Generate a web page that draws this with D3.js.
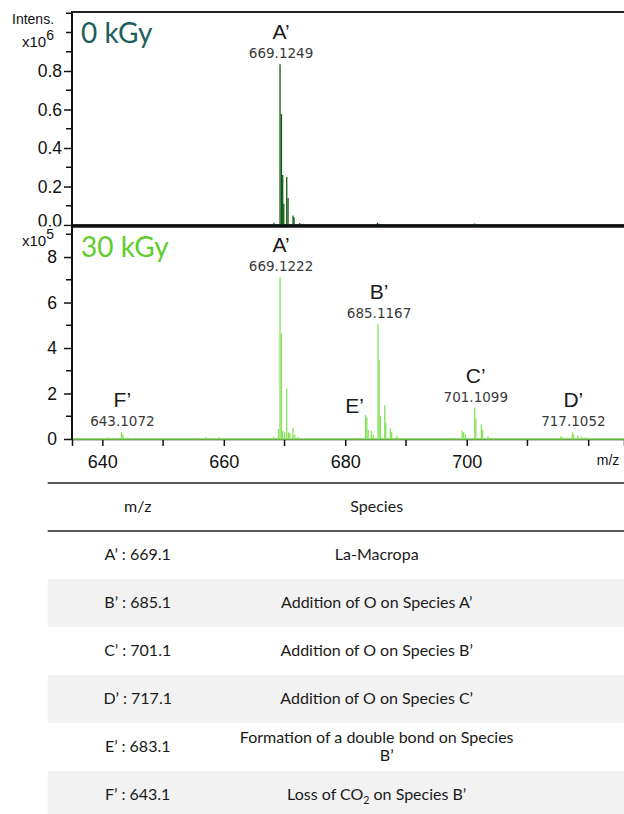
<!DOCTYPE html>
<html>
<head>
<meta charset="utf-8">
<script src="https://cdn.jsdelivr.net/npm/d3@7"></script>
<style>
  body { margin: 0; background: #fff; }
  svg { display: block; }
</style>
</head>
<body>
<div id="chart"></div>
<script>
// peaks: [m/z, intensity]
// 0 kGy, intensity x10^6
const peaks0kGy = [
  [668.27, 0.012], [669.26, 0.835], [669.49, 0.576], [669.70, 0.26], [669.87, 0.11],
  [670.36, 0.25], [670.58, 0.14], [671.40, 0.05], [671.56, 0.04], [672.5, 0.01],
  [685.3, 0.012], [685.6, 0.006], [701.3, 0.008]
];
// 30 kGy, intensity x10^5
const peaks30kGy = [
  [641.0, 0.07], [641.3, 0.05], [643.13, 0.30], [643.37, 0.2], [644.2, 0.08],
  [657.1, 0.1], [659.2, 0.08],
  [668.2, 0.1], [669.0, 0.44], [669.26, 7.1], [669.49, 4.65], [669.70, 0.35], [670.03, 0.3],
  [670.36, 2.2], [670.64, 0.3], [670.86, 0.25], [671.40, 0.5], [671.68, 0.2], [672.2, 0.1],
  [676.3, 0.05], [677.6, 0.05],
  [683.33, 1.05], [683.55, 0.95], [683.77, 0.4], [684.3, 0.35], [684.6, 0.2],
  [685.40, 5.05], [685.57, 3.47], [685.8, 1.0], [686.5, 1.48], [686.67, 0.7],
  [687.43, 0.47], [687.65, 0.3], [688.5, 0.15],
  [699.25, 0.37], [699.5, 0.3], [699.8, 0.2], [701.33, 1.38], [701.5, 0.9],
  [702.43, 0.65], [702.6, 0.4], [703.5, 0.12],
  [715.5, 0.12], [715.7, 0.1], [717.4, 0.3], [717.6, 0.2], [718.3, 0.15], [718.9, 0.1], [719.6, 0.08]
];

// peak annotations
const tags0kGy = ["A’"];
const tagMz0kGy = [669.26];
const tagText0kGy = ["669.1249"];

const tags30kGy = ["A’", "B’", "C’", "D’", "E’", "F’"];
const tagMz30kGy = [669.26, 685.40, 701.33, 717.4, 683.33, 643.13];
const tagText30kGy = ["669.1222", "685.1167", "701.1099", "717.1052", "", "643.1072"];

// axis ticks
const mzTicks = [640, 660, 680, 700, 720];
const mzMinorTicks = [650, 670, 690, 710];
const yTicks0kGy = [0.0, 0.2, 0.4, 0.6, 0.8];
const yMinor0kGy = [0.1, 0.3, 0.5, 0.7, 0.9, 1.0, 1.1];
const yTicks30kGy = [0, 2, 4, 6, 8];
const yMinor30kGy = [1, 3, 5, 7, 9];

// table
const tableHead = ["m/z", "Species"];
const tableMz = ["A’ : 669.1", "B’ : 685.1", "C’ : 701.1", "D’ : 717.1", "E’ : 683.1", "F’ : 643.1"];
const tableSpecies = [
  "La-Macropa",
  "Addition of O on Species A’",
  "Addition of O on Species B’",
  "Addition of O on Species C’",
  "Formation of a double bond on Species|B’",
  "Loss of CO2 on Species B’"
];

function drawFigure() {
  const W = 624, H = 814;
  const axisFont = "'Liberation Sans', Arial, sans-serif";
  const labelFont = "'DejaVu Sans', Verdana, sans-serif";
  const softFont = "Lato, 'Open Sans', sans-serif";

  var svg = d3.select("#chart").append("svg").attr("width", W).attr("height", H);

  // shared m/z scale
  var x = d3.scaleLinear().domain([635, 725.9]).range([72, W]);

  // top panel: 0 kGy
  var y0 = d3.scaleLinear().domain([0, 1.1065]).range([225, 12]);
  // bottom panel: 30 kGy
  var y1 = d3.scaleLinear().domain([0, 9.32]).range([439, 227]);

  function drawSticks(g, peaks, y, color) {
    // baseline
    g.append("line")
      .attr("x1", x.range()[0]).attr("x2", x.range()[1])
      .attr("y1", y(0)).attr("y2", y(0))
      .attr("stroke", color).attr("stroke-width", 1.5);
    g.selectAll("line.peak").data(peaks).enter().append("line")
      .attr("class", "peak")
      .attr("x1", d => x(d[0])).attr("x2", d => x(d[0]))
      .attr("y1", y(0)).attr("y2", d => y(d[1]))
      .attr("stroke", color).attr("stroke-width", 1.3);
  }

  function drawYAxis(g, y, major, minor, fmt, pad) {
    var ax = d3.axisLeft(y).tickValues(major).tickFormat(fmt).tickSize(8).tickPadding(pad);
    var ga = g.append("g").attr("transform", "translate(72,0)").call(ax);
    ga.select(".domain").remove();
    ga.selectAll("text").attr("font-family", axisFont).attr("font-size", 17.5).attr("fill", "#111");
    ga.selectAll("line").attr("stroke", "#111").attr("stroke-width", 1.5);
    g.selectAll("line.minor").data(minor).enter().append("line")
      .attr("class", "minor")
      .attr("x1", 66).attr("x2", 72)
      .attr("y1", d => y(d)).attr("y2", d => y(d))
      .attr("stroke", "#111").attr("stroke-width", 1.5);
    return ga;
  }

  function drawTags(g, tags, mzs, texts, peaks, y) {
    tags.forEach(function (tag, i) {
      var mz = mzs[i];
      // the highest stick near the tagged m/z
      var hi = d3.max(peaks.filter(p => Math.abs(p[0] - mz) < 0.3), p => p[1]);
      var px = x(mz), py = y(hi);
      if (texts[i] === "") {
        // unlabelled peak: tag sits to the left
        g.append("text").attr("x", px - 11).attr("y", py - 2)
          .attr("text-anchor", "middle").attr("font-family", axisFont)
          .attr("font-size", 21).attr("fill", "#1a1a1a").text(tag);
        return;
      }
      g.append("text").attr("x", px + 1).attr("y", py - 6)
        .attr("text-anchor", "middle").attr("font-family", labelFont)
        .attr("font-size", 13.5).attr("fill", "#3a3a3a").text(texts[i]);
      g.append("text").attr("x", px + 1).attr("y", py - 25)
        .attr("text-anchor", "middle").attr("font-family", axisFont)
        .attr("font-size", 21).attr("fill", "#1a1a1a").text(tag);
    });
  }

  function drawExponent(g, yBase, exp) {
    var t = g.append("text").attr("x", 22).attr("y", yBase)
      .attr("font-family", axisFont).attr("font-size", 15).attr("fill", "#111");
    t.append("tspan").text("x10");
    t.append("tspan").attr("dy", -7).attr("font-size", 14).text(exp);
  }

  // ---- top panel ----
  var topPanel = svg.append("g");
  drawSticks(topPanel, peaks0kGy, y0, "#0f5a12");
  var topAxis = drawYAxis(topPanel, y0, yTicks0kGy, yMinor0kGy, d3.format(".1f"), 2);
  // the 0.0 label sits a little high and is half hidden by the divider
  topAxis.selectAll(".tick").filter(d => d === 0).select("text").attr("y", -4);
  drawTags(topPanel, tags0kGy, tagMz0kGy, tagText0kGy, peaks0kGy, y0);

  topPanel.append("text").attr("x", 12).attr("y", 24)
    .attr("font-family", axisFont).attr("font-size", 14).attr("fill", "#111").text("Intens.");
  drawExponent(topPanel, 47, "6");

  topPanel.append("text").attr("x", 81).attr("y", 43)
    .attr("font-family", softFont).attr("font-size", 28).attr("fill", "#1c5e5c").text("0 kGy");

  // top frame line
  topPanel.append("line").attr("x1", 72).attr("x2", W).attr("y1", 12).attr("y2", 12)
    .attr("stroke", "#222").attr("stroke-width", 2);

  // ---- bottom panel ---- (covers the lower half of the top "0.0" label)
  var bottomPanel = svg.append("g");
  bottomPanel.append("rect").attr("x", 0).attr("y", 226.5).attr("width", W).attr("height", 250).attr("fill", "#fff");

  // x axis
  var xa = bottomPanel.append("g").attr("transform", "translate(0,439)")
    .call(d3.axisBottom(x).tickValues(mzTicks).tickFormat(d => d === 720 ? "" : d).tickSize(7).tickPadding(9));
  xa.select(".domain").attr("stroke", "#111").attr("stroke-width", 1.5);
  xa.selectAll("text").attr("font-family", axisFont).attr("font-size", 18).attr("fill", "#111");
  xa.selectAll("line").attr("stroke", "#111").attr("stroke-width", 1.5);
  bottomPanel.selectAll("line.xminor").data(mzMinorTicks).enter().append("line")
    .attr("class", "xminor")
    .attr("x1", d => x(d)).attr("x2", d => x(d)).attr("y1", 439).attr("y2", 446)
    .attr("stroke", "#111").attr("stroke-width", 1.5);
  bottomPanel.append("text").attr("x", 608).attr("y", 465).attr("text-anchor", "middle")
    .attr("font-family", axisFont).attr("font-size", 14).attr("fill", "#111").text("m/z");

  drawSticks(bottomPanel, peaks30kGy, y1, "#86e25a");
  drawYAxis(bottomPanel, y1, yTicks30kGy, yMinor30kGy, d3.format("d"), 7);
  drawTags(bottomPanel, tags30kGy, tagMz30kGy, tagText30kGy, peaks30kGy, y1);
  drawExponent(bottomPanel, 246, "5");

  bottomPanel.append("text").attr("x", 81).attr("y", 257)
    .attr("font-family", softFont).attr("font-size", 28).attr("fill", "#5fcc2c").text("30 kGy");

  // left axis and panel divider
  svg.append("line").attr("x1", 72).attr("x2", 72).attr("y1", 11).attr("y2", 440)
    .attr("stroke", "#111").attr("stroke-width", 2);
  svg.append("line").attr("x1", 72).attr("x2", W).attr("y1", 226).attr("y2", 226)
    .attr("stroke", "#111").attr("stroke-width", 3.5);

  // ---- table ----
  var tbl = svg.append("g");
  var tx0 = 47.7, rowH = 48, headTop = 483;
  var colX = [137.7, 376.7];

  tableMz.forEach(function (d, i) {
    var rt = headTop + rowH * (i + 1);
    if (i % 2 === 1) {
      tbl.append("rect").attr("x", tx0).attr("y", rt).attr("width", W - tx0).attr("height", rowH).attr("fill", "#f2f2f2");
    }
  });

  tbl.append("line").attr("x1", tx0).attr("x2", W).attr("y1", headTop).attr("y2", headTop)
    .attr("stroke", "#222").attr("stroke-width", 1.5);
  tbl.append("line").attr("x1", tx0).attr("x2", W).attr("y1", headTop + rowH).attr("y2", headTop + rowH)
    .attr("stroke", "#222").attr("stroke-width", 1.5);

  function cell(cx, cy, str) {
    var t = tbl.append("text").attr("x", cx).attr("y", cy).attr("text-anchor", "middle")
      .attr("font-family", softFont).attr("font-size", 16).attr("fill", "#1a1a1a");
    // CO2 gets a subscript 2
    if (str.indexOf("CO2") >= 0) {
      var parts = str.split("CO2");
      t.append("tspan").text(parts[0] + "CO");
      t.append("tspan").attr("font-size", 10.5).attr("dy", 4).text("2");
      t.append("tspan").attr("dy", -4).text(parts[1]);
    } else {
      t.text(str);
    }
  }

  tableHead.forEach((h, j) => cell(colX[j], headTop + rowH / 2 + 5, h));

  tableMz.forEach(function (d, i) {
    var mid = headTop + rowH * (i + 1) + rowH / 2;
    cell(colX[0], mid + 5, d);
    var lines = tableSpecies[i].split("|");
    if (lines.length === 1) {
      cell(colX[1], mid + 5, lines[0]);
    } else {
      cell(colX[1], mid - 4, lines[0]);
      cell(colX[1] + 10, mid + 14, lines[1]);
    }
  });
}

drawFigure();
</script>
</body>
</html>
